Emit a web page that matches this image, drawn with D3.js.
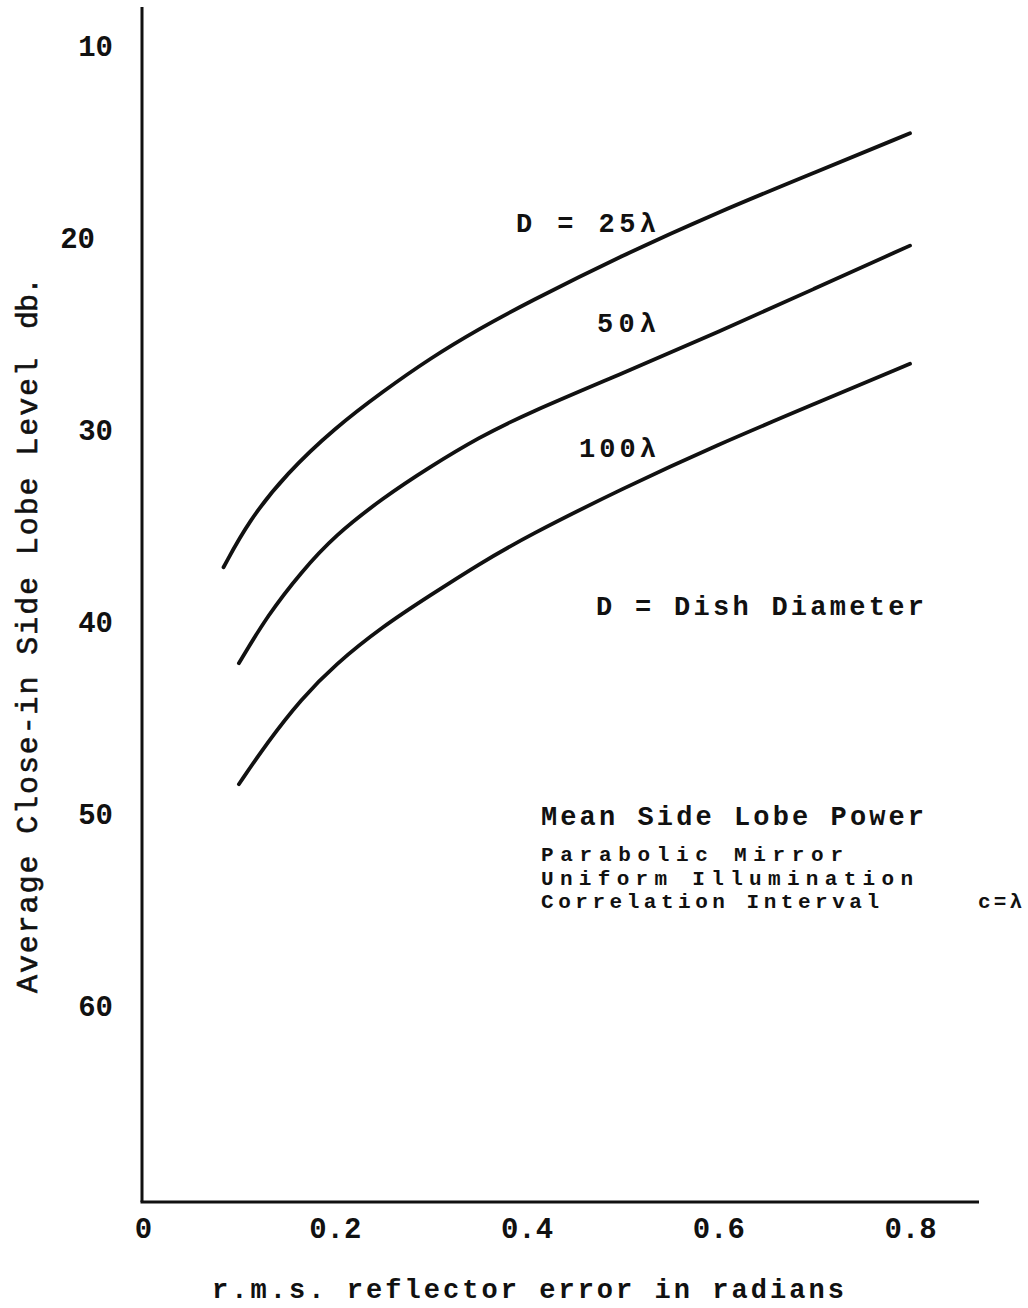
<!DOCTYPE html>
<html>
<head>
<meta charset="utf-8">
<script src="https://cdn.jsdelivr.net/npm/d3@7"></script>
<style>
  body { margin: 0; background: #fff; }
  svg text { font-family: "Liberation Mono", "DejaVu Sans Mono", monospace; fill: #111; }
</style>
</head>
<body>
<script>
// r.m.s. reflector error (radians) and side lobe level (db)
var err25 = [0.084, 0.11, 0.15, 0.2, 0.25, 0.3, 0.35, 0.4, 0.5, 0.6, 0.7, 0.8];
var lobe25 = [37.2, 34.8, 32.3, 29.95, 28.05, 26.3, 24.8, 23.45, 20.95, 18.7, 16.65, 14.6];
var err50 = [0.1, 0.13, 0.165, 0.2, 0.25, 0.3, 0.35, 0.4, 0.5, 0.6, 0.7, 0.8];
var lobe50 = [42.2, 39.7, 37.45, 35.55, 33.6, 31.95, 30.45, 29.2, 27.1, 24.95, 22.7, 20.45];
var err100 = [0.1, 0.13, 0.165, 0.2, 0.25, 0.3, 0.35, 0.4, 0.5, 0.6, 0.7, 0.8];
var lobe100 = [48.5, 46.3, 44.06, 42.28, 40.28, 38.65, 37.05, 35.6, 33.1, 30.8, 28.7, 26.6];

var xTicks = [0, 0.2, 0.4, 0.6, 0.8];
var xTickLabels = ["0", "0.2", "0.4", "0.6", "0.8"];
var yTicks = [10, 20, 30, 40, 50, 60];

var width = 1028, height = 1308;

var svg = d3.select("body").append("svg")
    .attr("width", width)
    .attr("height", height);

// y runs downward: 10 db at top
var x = d3.scaleLinear().domain([0, 0.8]).range([143, 910]);
var y = d3.scaleLinear().domain([10, 60]).range([45, 1005]);

var xEnd = x.invert(979);
var yTop = y.invert(7), yBot = y.invert(1202);

// axes (no tick marks, just the lines and labels)
svg.append("line")
    .attr("x1", x(0) - 1).attr("y1", y(yTop))
    .attr("x2", x(0) - 1).attr("y2", y(yBot))
    .attr("stroke", "#111").attr("stroke-width", 3);

svg.append("line")
    .attr("x1", x(0) - 2.5).attr("y1", y(yBot))
    .attr("x2", x(xEnd)).attr("y2", y(yBot))
    .attr("stroke", "#111").attr("stroke-width", 3);

var xAxis = svg.append("g")
    .attr("transform", "translate(0," + y(yBot) + ")")
    .call(d3.axisBottom(x).tickValues(xTicks).tickSize(0)
        .tickFormat(function(d, i) { return xTickLabels[i]; }));
xAxis.select(".domain").remove();
xAxis.selectAll("text")
    .attr("y", 36)
    .attr("dy", 0)
    .attr("font-size", "29px")
    .attr("font-weight", "bold")
    .attr("font-family", "Liberation Mono")
    .attr("fill", "#111");

var yAxis = svg.append("g")
    .attr("transform", "translate(113,0)")
    .call(d3.axisLeft(y).tickValues(yTicks).tickSize(0).tickPadding(0));
yAxis.select(".domain").remove();
yAxis.selectAll("text")
    .attr("x", function(d) { return d == 20 ? -18 : 0; }) // the typed "20" sits further left
    .attr("dy", "0.36em")
    .attr("font-size", "29px")
    .attr("font-weight", "bold")
    .attr("font-family", "Liberation Mono")
    .attr("fill", "#111");

// axis titles
svg.append("text")
    .attr("transform", "translate(37,993) rotate(-90)")
    .attr("font-size", "30px")
    .attr("stroke", "#111")
    .attr("stroke-width", 0.6)
    .attr("textLength", 635)
    .attr("lengthAdjust", "spacing")
    .text("Average Close-in Side Lobe Level");

svg.append("text")
    .attr("transform", "translate(37,329) rotate(-90)")
    .attr("font-size", "30px")
    .attr("stroke", "#111")
    .attr("stroke-width", 0.6)
    .attr("textLength", 52)
    .attr("lengthAdjust", "spacing")
    .text("db.");

svg.append("text")
    .attr("x", 212)
    .attr("y", 1298)
    .attr("font-size", "27px")
    .attr("font-weight", "bold")
    .attr("textLength", 632)
    .attr("lengthAdjust", "spacing")
    .text("r.m.s. reflector error in radians");

// curves
var line = d3.line()
    .x(function(d) { return x(d[0]); })
    .y(function(d) { return y(d[1]); })
    .curve(d3.curveBasis);

var series = [
  {err: err25, lobe: lobe25},
  {err: err50, lobe: lobe50},
  {err: err100, lobe: lobe100}
];

svg.selectAll(".curve")
    .data(series)
    .enter().append("path")
    .attr("class", "curve")
    .attr("d", function(s) { return line(d3.zip(s.err, s.lobe)); })
    .attr("fill", "none")
    .attr("stroke", "#111")
    .attr("stroke-width", 3.8)
    .attr("stroke-linecap", "round");

// annotations: [text, x, baseline, width, size]
var notes = [
  ["D = 25\u03bb", 516, 232, 140, 27],
  ["50\u03bb", 597, 332, 59, 27],
  ["100\u03bb", 579, 457, 77, 27],
  ["D = Dish Diameter", 596, 615, 328, 27],
  ["Mean Side Lobe Power", 541, 825, 383, 27],
  ["Parabolic Mirror", 541, 861, 302, 21],
  ["Uniform Illumination", 541, 884.5, 372, 21],
  ["Correlation Interval", 541, 908, 338, 21],
  ["c=\u03bb", 978, 908, 44, 21]
];

svg.selectAll(".note")
    .data(notes)
    .enter().append("text")
    .attr("class", "note")
    .attr("x", function(d) { return d[1]; })
    .attr("y", function(d) { return d[2]; })
    .attr("textLength", function(d) { return d[3]; })
    .attr("lengthAdjust", "spacing")
    .attr("font-size", function(d) { return d[4] + "px"; })
    .attr("font-weight", "bold")
    .text(function(d) { return d[0]; });
</script>
</body>
</html>
